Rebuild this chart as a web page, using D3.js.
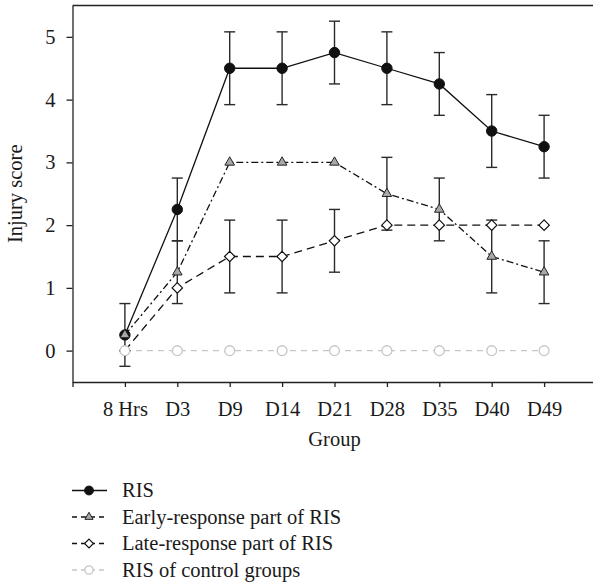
<!DOCTYPE html>
<html>
<head>
<meta charset="utf-8">
<script src="https://cdn.jsdelivr.net/npm/d3@7/dist/d3.min.js"></script>
<style>
  body { margin: 0; background: #fff; }
  svg { display: block; }
  text { font-family: "Liberation Serif", "DejaVu Serif", serif; fill: #1a1a1a; }
</style>
</head>
<body>
<div id="chart"></div>
<script>
// == DATA ==
const groups = ['8 Hrs', 'D3', 'D9', 'D14', 'D21', 'D28', 'D35', 'D40', 'D49'];
const yTicks = [0, 1, 2, 3, 4, 5];

const risValues = [0.25, 2.25, 4.5, 4.5, 4.75, 4.5, 4.25, 3.5, 3.25];
const risErr = [0.5, 0.5, 0.58, 0.58, 0.5, 0.58, 0.5, 0.58, 0.5];

const earlyValues = [0.25, 1.25, 3, 3, 3, 2.5, 2.25, 1.5, 1.25];
const earlyErr = [0, 0.5, 0, 0, 0, 0.58, 0.5, 0.58, 0.5];

const lateValues = [0, 1, 1.5, 1.5, 1.75, 2, 2, 2, 2];
const lateErr = [0, 0, 0.58, 0.58, 0.5, 0, 0, 0, 0];

const controlValues = [0, 0, 0, 0, 0, 0, 0, 0, 0];

const legendLabels = ['RIS', 'Early-response part of RIS', 'Late-response part of RIS', 'RIS of control groups'];

// == CONFIG ==
const W = 593, H = 583;
const LEFT = 72.5, TOP = 5.5, BOTTOM = 382, RIGHT = 596.5;
const FONT = 20.5;
const COLOR_LINE = '#111';
const COLOR_ERR = '#2a2a2a';
const COLOR_TRI = '#a8a8a8';
const COLOR_CONTROL = '#c6c6c6';

const svg = d3.select('#chart').append('svg')
  .attr('width', W)
  .attr('height', H);

const x = d3.scaleLinear().domain([-1, 9]).range([LEFT, RIGHT]);
const y = d3.scaleLinear().domain([-0.5, 5.5]).range([BOTTOM, TOP]);

// == AXES ==
const gx = svg.append('g')
  .attr('transform', `translate(0,${BOTTOM})`)
  .call(d3.axisBottom(x)
    .tickValues(d3.range(-1, 9))
    .tickSize(5)
    .tickSizeOuter(0)
    .tickFormat(i => i >= 0 ? groups[i] : ''));
gx.select('.domain').attr('stroke', '#222').attr('stroke-width', 1.3);
gx.selectAll('.tick line').attr('stroke', '#222').attr('stroke-width', 1.3);
gx.selectAll('text')
  .attr('y', 34).attr('dy', null)
  .attr('font-size', FONT).attr('font-family', null).attr('fill', '#1a1a1a');

const gy = svg.append('g')
  .attr('transform', `translate(${LEFT},0)`)
  .call(d3.axisLeft(y)
    .tickValues(yTicks)
    .tickFormat(d3.format('d'))
    .tickSize(6)
    .tickSizeOuter(0)
    .tickPadding(11));
gy.select('.domain').attr('stroke', '#222').attr('stroke-width', 1.3);
gy.selectAll('.tick line').attr('stroke', '#222').attr('stroke-width', 1.3);
gy.selectAll('text')
  .attr('font-size', FONT).attr('font-family', null).attr('fill', '#1a1a1a');

// top frame line
svg.append('line')
  .attr('x1', LEFT).attr('x2', W + 10)
  .attr('y1', TOP).attr('y2', TOP)
  .attr('stroke', '#222').attr('stroke-width', 1.3);

// axis titles
svg.append('text')
  .attr('transform', `translate(22,${(TOP + BOTTOM) / 2}) rotate(-90)`)
  .attr('text-anchor', 'middle')
  .attr('font-size', FONT)
  .text('Injury score');

svg.append('text')
  .attr('x', (LEFT + RIGHT) / 2)
  .attr('y', 446)
  .attr('text-anchor', 'middle')
  .attr('font-size', FONT)
  .text('Group');

// == SERIES ==
const series = [
  { vals: risValues, err: risErr, dash: null, color: COLOR_LINE, marker: 'circle' },
  { vals: earlyValues, err: earlyErr, dash: '7,3,2,3', color: COLOR_LINE, marker: 'triangle' },
  { vals: lateValues, err: lateErr, dash: '8,5', color: COLOR_LINE, marker: 'diamond' },
  { vals: controlValues, err: null, dash: '6,5', color: COLOR_CONTROL, marker: 'open' }
];

const line = d3.line().x((d, i) => x(i)).y(d => y(d));

// error bars
const gErr = svg.append('g');
series.forEach(s => {
  if (!s.err) return;
  s.vals.forEach((v, i) => {
    const e = s.err[i];
    if (!e) return;
    const cx = x(i);
    gErr.append('line')
      .attr('x1', cx).attr('x2', cx)
      .attr('y1', y(v - e)).attr('y2', y(v + e))
      .attr('stroke', COLOR_ERR).attr('stroke-width', 1.4);
    [v - e, v + e].forEach(t => {
      gErr.append('line')
        .attr('x1', cx - 5.5).attr('x2', cx + 5.5)
        .attr('y1', y(t)).attr('y2', y(t))
        .attr('stroke', COLOR_ERR).attr('stroke-width', 1.4);
    });
  });
});

// lines
const gLines = svg.append('g');
series.forEach(s => {
  gLines.append('path')
    .attr('d', line(s.vals))
    .attr('fill', 'none')
    .attr('stroke', s.color)
    .attr('stroke-width', 1.3)
    .attr('stroke-dasharray', s.dash);
});

function drawMarker(g, type, cx, cy, k) {
  if (type === 'circle') {
    g.append('circle').attr('cx', cx).attr('cy', cy).attr('r', 5.2 * k)
      .attr('fill', '#111').attr('stroke', '#111');
  } else if (type === 'triangle') {
    const hw = 4.8 * k, h = 8.3 * k;
    g.append('path')
      .attr('d', `M${cx},${cy - h * 2 / 3}L${cx + hw},${cy + h / 3}L${cx - hw},${cy + h / 3}Z`)
      .attr('fill', COLOR_TRI).attr('stroke', '#222').attr('stroke-width', 1);
  } else if (type === 'diamond') {
    const r = 5.2 * k;
    g.append('path')
      .attr('d', `M${cx},${cy - r}L${cx + r},${cy}L${cx},${cy + r}L${cx - r},${cy}Z`)
      .attr('fill', '#fff').attr('stroke', '#111').attr('stroke-width', 1.2);
  } else {
    g.append('circle').attr('cx', cx).attr('cy', cy).attr('r', 4.9 * k)
      .attr('fill', '#fff').attr('stroke', COLOR_CONTROL).attr('stroke-width', 1.3);
  }
}

// markers
const gMarks = svg.append('g');
series.forEach(s => {
  s.vals.forEach((v, i) => drawMarker(gMarks, s.marker, x(i), y(v), 1));
});

// == LEGEND ==
const legend = svg.append('g');
const legendBase = [497, 523.5, 550, 576.5];
series.forEach((s, i) => {
  const cy = legendBase[i] - 6.5;
  legend.append('line')
    .attr('x1', 72).attr('x2', 107)
    .attr('y1', cy).attr('y2', cy)
    .attr('stroke', s.color).attr('stroke-width', 1.3)
    .attr('stroke-dasharray', s.dash ? '5,4' : null);
  drawMarker(legend, s.marker, 89, cy, 0.85);
  legend.append('text')
    .attr('x', 122).attr('y', legendBase[i])
    .attr('font-size', FONT)
    .text(legendLabels[i]);
});
</script>
</body>
</html>
